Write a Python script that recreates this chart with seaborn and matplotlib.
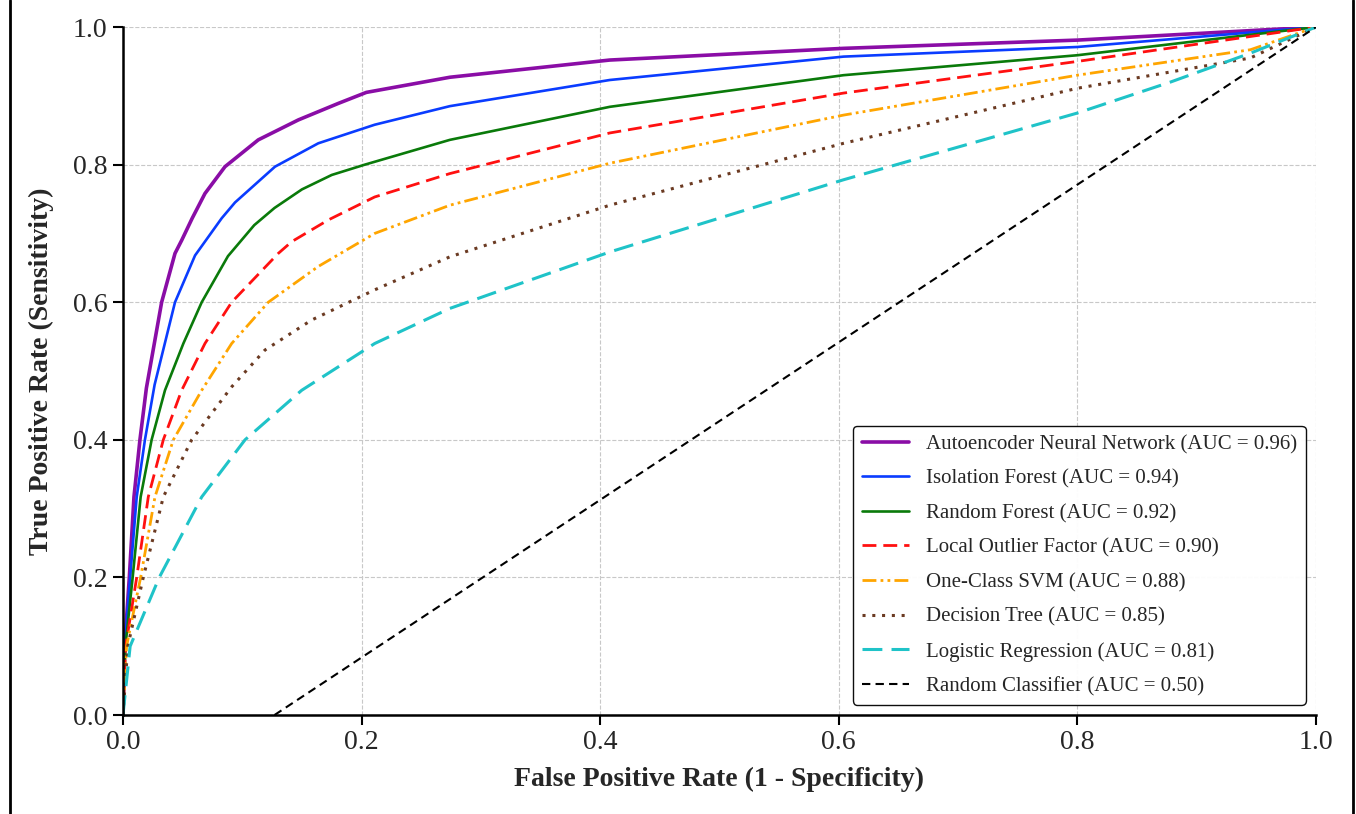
import numpy as np
import pandas as pd
import matplotlib
matplotlib.use("Agg")
import matplotlib.pyplot as plt
from matplotlib.lines import Line2D
import seaborn as sns

# ROC curve points
fpr_ae = [0, 0.0014, 0.0053, 0.0092, 0.0142, 0.0196, 0.0324, 0.0436, 0.0492, 0.058, 0.0687, 0.0855, 0.1134, 0.147, 0.1805, 0.204, 0.274, 0.408, 0.604, 0.8, 1.0]
tpr_ae = [0, 0.10, 0.20, 0.317, 0.40, 0.475, 0.60, 0.671, 0.69, 0.722, 0.758, 0.797, 0.836, 0.865, 0.889, 0.905, 0.927, 0.952, 0.969, 0.981, 1.0]

fpr_if = [0, 0.0014, 0.006, 0.0115, 0.0184, 0.0265, 0.0436, 0.0604, 0.0827, 0.0939, 0.1274, 0.1637, 0.211, 0.274, 0.408, 0.604, 0.8, 1.0]
tpr_if = [0, 0.10, 0.20, 0.317, 0.40, 0.48, 0.60, 0.668, 0.722, 0.745, 0.797, 0.831, 0.858, 0.885, 0.923, 0.957, 0.971, 1.0]

fpr_rf = [0, 0.002, 0.0081, 0.0148, 0.024, 0.0352, 0.0506, 0.066, 0.088, 0.11, 0.127, 0.15, 0.175, 0.2028, 0.274, 0.408, 0.604, 0.8, 1.0]
tpr_rf = [0, 0.10, 0.20, 0.317, 0.40, 0.472, 0.54, 0.60, 0.667, 0.712, 0.737, 0.764, 0.785, 0.80, 0.836, 0.884, 0.930, 0.959, 1.0]

fpr_lof = [0, 0.0022, 0.0115, 0.0212, 0.0338, 0.0492, 0.0687, 0.0911, 0.1302, 0.1414, 0.172, 0.211, 0.274, 0.408, 0.604, 0.8, 1.0]
tpr_lof = [0, 0.10, 0.20, 0.317, 0.40, 0.472, 0.54, 0.60, 0.671, 0.688, 0.7195, 0.753, 0.787, 0.846, 0.904, 0.95, 1.0]

fpr_svm = [0, 0.003, 0.0148, 0.0268, 0.0422, 0.066, 0.0911, 0.1218, 0.1637, 0.211, 0.274, 0.408, 0.604, 0.8, 0.945, 1.0]
tpr_svm = [0, 0.10, 0.20, 0.317, 0.40, 0.472, 0.54, 0.60, 0.652, 0.70, 0.741, 0.802, 0.872, 0.930, 0.967, 1.0]

fpr_dt = [0, 0.004, 0.017, 0.0338, 0.0576, 0.0911, 0.119, 0.158, 0.211, 0.274, 0.408, 0.604, 0.8, 0.945, 1.0]
tpr_dt = [0, 0.10, 0.20, 0.317, 0.40, 0.477, 0.5305, 0.574, 0.618, 0.666, 0.741, 0.831, 0.911, 0.955, 1.0]

fpr_lr = [0, 0.006, 0.0304, 0.066, 0.1023, 0.1498, 0.211, 0.274, 0.408, 0.604, 0.8, 0.878, 0.945, 1.0]
tpr_lr = [0, 0.10, 0.20, 0.317, 0.40, 0.472, 0.54, 0.591, 0.673, 0.778, 0.875, 0.92, 0.962, 1.0]

fpr_rand = [0.127, 1.0]
tpr_rand = [0.0, 1.0]

labels = [
    "Autoencoder Neural Network (AUC = 0.96)",
    "Isolation Forest (AUC = 0.94)",
    "Random Forest (AUC = 0.92)",
    "Local Outlier Factor (AUC = 0.90)",
    "One-Class SVM (AUC = 0.88)",
    "Decision Tree (AUC = 0.85)",
    "Logistic Regression (AUC = 0.81)",
    "Random Classifier (AUC = 0.50)",
]

curves = [
    (fpr_ae, tpr_ae, "#8a0da6", "-", 2.6),
    (fpr_if, tpr_if, "#0a3cff", "-", 1.9),
    (fpr_rf, tpr_rf, "#0a7a0a", "-", 1.9),
    (fpr_lof, tpr_lof, "#ff1010", (0, (5, 2.5)), 2.0),
    (fpr_svm, tpr_svm, "#ffa500", (0, (5, 1.5, 1, 1.5, 1, 1.5)), 2.0),
    (fpr_dt, tpr_dt, "#6b3a22", (0, (1, 2.2)), 2.2),
    (fpr_lr, tpr_lr, "#1fc3c8", (0, (6.5, 3)), 2.2),
    (fpr_rand, tpr_rand, "black", (0, (4, 2.5)), 1.5),
]

sns.set_style("ticks")
plt.rcParams["font.family"] = ["Liberation Serif", "DejaVu Serif"]

fig = plt.figure(figsize=(13.56, 8.14), dpi=100)
ax = fig.add_axes([0.0907, 0.1216, 0.8798, 0.8452])

for (x, y, c, ls, lw), lab in zip(curves, labels):
    sns.lineplot(x=x, y=y, ax=ax, color=c, linestyle=ls, linewidth=lw,
                 label=lab, sort=False, estimator=None)

ax.set_xlim(0, 1)
ax.set_ylim(0, 1)
ticks = [0.0, 0.2, 0.4, 0.6, 0.8, 1.0]
ax.set_xticks(ticks)
ax.set_yticks(ticks)
ax.set_xticklabels([f"{t:.1f}" for t in ticks], fontsize=20)
ax.set_yticklabels([f"{t:.1f}" for t in ticks], fontsize=20)
ax.tick_params(direction="out", length=7, width=1.5, color="black", pad=4)

ax.grid(True, linestyle="--", color="#c8c8c8", linewidth=0.8)
for s in ["top", "right"]:
    ax.spines[s].set_visible(False)
for s in ["left", "bottom"]:
    ax.spines[s].set_color("black")
    ax.spines[s].set_linewidth(1.8)

ax.set_xlabel("False Positive Rate (1 - Specificity)", fontsize=20, fontweight="bold", labelpad=8)
ax.set_ylabel("True Positive Rate (Sensitivity)", fontsize=20, fontweight="bold", labelpad=14)

leg = ax.legend(loc="lower right", fontsize=15, handlelength=2.3, labelspacing=0.72,
                frameon=True, fancybox=True, framealpha=0.95, edgecolor="black")
leg.get_frame().set_linewidth(1.0)

# thin frame lines at the image edges
fig.add_artist(Line2D([0.0075, 0.0075], [0, 1], transform=fig.transFigure, color="black", lw=2))
fig.add_artist(Line2D([0.9975, 0.9975], [0, 1], transform=fig.transFigure, color="black", lw=2))

fig.savefig("out.png", dpi=100, facecolor="white")
